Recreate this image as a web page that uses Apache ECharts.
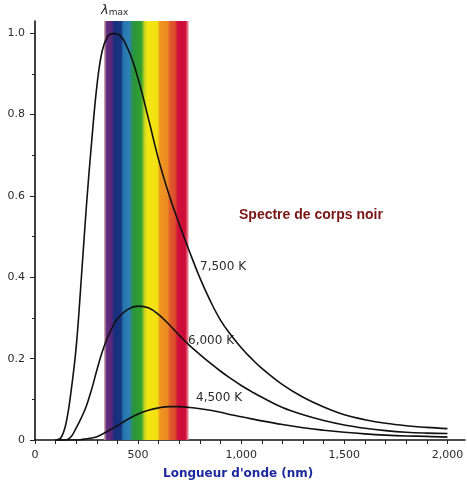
<!DOCTYPE html>
<html>
<head>
<meta charset="utf-8">
<script src="https://cdn.jsdelivr.net/npm/echarts@6/dist/echarts.min.js"></script>
<style>
html, body { margin: 0; padding: 0; background: #fff; }
#chart { width: 467px; height: 484px; }
</style>
</head>
<body>
<div id="chart"></div>
<script>
// longueurs d'onde (nm), communes aux trois courbes
const wavelengths = [100, 125, 150, 175, 200, 225, 250, 275, 300, 325, 350, 375, 400, 450, 500, 550, 600, 650, 700, 750, 800, 850, 900, 950, 1000, 1050, 1100, 1200, 1300, 1400, 1500, 1600, 1700, 1800, 1900, 2000]
// intensité relative
const curve7500 = [0, 0.005, 0.04, 0.12, 0.23, 0.40, 0.58, 0.735, 0.87, 0.955, 0.99, 0.999, 0.998, 0.962, 0.888, 0.79, 0.688, 0.603, 0.53, 0.462, 0.398, 0.342, 0.294, 0.258, 0.227, 0.2, 0.176, 0.136, 0.105, 0.081, 0.062, 0.05, 0.041, 0.035, 0.031, 0.028]
const curve6000 = [0, 0, 0, 0.008, 0.03, 0.055, 0.085, 0.125, 0.172, 0.215, 0.25, 0.277, 0.298, 0.321, 0.329, 0.325, 0.308, 0.284, 0.257, 0.232, 0.21, 0.189, 0.169, 0.151, 0.134, 0.119, 0.105, 0.08, 0.062, 0.048, 0.037, 0.029, 0.023, 0.019, 0.017, 0.016]
const curve4500 = [0, 0, 0, 0, 0, 0.001, 0.003, 0.005, 0.008, 0.014, 0.021, 0.028, 0.035, 0.051, 0.064, 0.073, 0.079, 0.082, 0.082, 0.08, 0.077, 0.073, 0.068, 0.062, 0.057, 0.052, 0.047, 0.038, 0.03, 0.024, 0.019, 0.015, 0.012, 0.01, 0.009, 0.007]
const curveNames = ['7,500 K', '6,000 K', '4,500 K']
// bande du spectre visible (nm)
const visibleBand = [335, 745]
const xLabelValues = [0, 500, 1000, 1500, 2000]
const xTickValues = [0, 100, 200, 300, 400, 500, 600, 700, 800, 900, 1000, 1100, 1200, 1300, 1400, 1500, 1600, 1700, 1800, 1900, 2000]
const yLabelValues = [0, 0.2, 0.4, 0.6, 0.8, 1.0]
const yMinorValues = [0.1, 0.3, 0.5, 0.7, 0.9]

const axisFont = 'DejaVu Sans'
const ink = '#2b2b2b'

function pairs(values) {
  return wavelengths.map((w, i) => [w, values[i]])
}

// dégradé arc-en-ciel de la bande visible
const rainbow = new echarts.graphic.LinearGradient(0, 0, 1, 0, [
  { offset: 0, color: '#d9b3a6' },
  { offset: 0.03, color: '#632c82' },
  { offset: 0.09, color: '#5a2778' },
  { offset: 0.12, color: '#172f7c' },
  { offset: 0.2, color: '#16347f' },
  { offset: 0.23, color: '#2776b0' },
  { offset: 0.3, color: '#2d82b4' },
  { offset: 0.34, color: '#28943f' },
  { offset: 0.44, color: '#34a02e' },
  { offset: 0.48, color: '#c5d820' },
  { offset: 0.51, color: '#f3e612' },
  { offset: 0.63, color: '#f2e014' },
  { offset: 0.66, color: '#ef9620' },
  { offset: 0.75, color: '#ec8a22' },
  { offset: 0.78, color: '#e25a2c' },
  { offset: 0.84, color: '#dd4c2c' },
  { offset: 0.87, color: '#d0103a' },
  { offset: 0.96, color: '#cc0c36' },
  { offset: 1, color: '#f0a0a8' }
])

const yMax = 1.03

const lineStyle = { color: '#111', width: 1.6 }

const myChart = echarts.init(document.getElementById('chart'))
const option = {
  animation: false,
  grid: { left: 35, right: 2, top: 21, bottom: 44 },
  xAxis: {
    type: 'value',
    min: 0,
    max: 2085,
    splitLine: { show: false },
    axisLine: { onZero: false, lineStyle: { color: '#111', width: 1.6 } },
    axisTick: { customValues: xTickValues, length: 4, lineStyle: { color: '#222' } },
    axisLabel: {
      customValues: xLabelValues,
      margin: 10,
      color: ink,
      fontFamily: axisFont,
      fontSize: 11,
      formatter: v => v.toLocaleString('en-US')
    }
  },
  yAxis: [
    {
      type: 'value',
      min: 0,
      max: yMax,
      splitLine: { show: false },
      axisLine: { show: true, lineStyle: { color: '#111', width: 1.6 } },
      axisTick: { customValues: yLabelValues, length: 5, lineStyle: { color: '#222' } },
      axisLabel: {
        customValues: yLabelValues,
        margin: 10,
        color: ink,
        fontFamily: axisFont,
        fontSize: 11,
        formatter: v => (v === 0 ? '0' : v.toFixed(1))
      }
    },
    {
      // petites graduations intermédiaires
      type: 'value',
      position: 'left',
      min: 0,
      max: yMax,
      splitLine: { show: false },
      axisLine: { show: false },
      axisTick: { show: true, customValues: yMinorValues, length: 3, lineStyle: { color: '#222' } },
      axisLabel: { show: false }
    }
  ],
  series: [
    {
      name: curveNames[0],
      type: 'line',
      data: pairs(curve7500),
      smooth: 0.4,
      symbol: 'none',
      lineStyle: lineStyle,
      z: 3,
      markArea: {
        silent: true,
        itemStyle: { color: rainbow },
        data: [[{ xAxis: visibleBand[0], yAxis: 0 }, { xAxis: visibleBand[1], yAxis: yMax }]]
      }
    },
    {
      name: curveNames[1],
      type: 'line',
      data: pairs(curve6000),
      smooth: 0.4,
      symbol: 'none',
      lineStyle: lineStyle,
      z: 3
    },
    {
      name: curveNames[2],
      type: 'line',
      data: pairs(curve4500),
      smooth: 0.4,
      symbol: 'none',
      lineStyle: lineStyle,
      z: 3
    }
  ],
  graphic: [
    {
      type: 'text', left: 239, top: 208,
      style: { text: 'Spectre de corps noir', fill: '#7a1414', font: 'bold 14px "Liberation Sans"' }
    },
    {
      type: 'text', left: 163, top: 468,
      style: { text: "Longueur d'onde (nm)", fill: '#1d2a9e', font: 'bold 12px "DejaVu Sans"' }
    },
    {
      type: 'text', left: 200, top: 261,
      style: { text: curveNames[0], fill: ink, font: '12px "DejaVu Sans"' }
    },
    {
      type: 'text', left: 188, top: 335,
      style: { text: curveNames[1], fill: ink, font: '12px "DejaVu Sans"' }
    },
    {
      type: 'text', left: 196, top: 392,
      style: { text: curveNames[2], fill: ink, font: '12px "DejaVu Sans"' }
    }
  ].concat([[101, 4], [129, 287], [153, 386]].map(p => ({
    type: 'text', left: p[0], top: p[1],
    style: {
      text: '{l|λ}{m|max}',
      fill: ink,
      rich: {
        l: { font: 'italic 13px "DejaVu Sans"', fill: ink },
        m: { font: '9px "DejaVu Sans"', fill: ink, padding: [5, 0, 0, 0] }
      }
    }
  })))
}
myChart.setOption(option)
</script>
</body>
</html>
